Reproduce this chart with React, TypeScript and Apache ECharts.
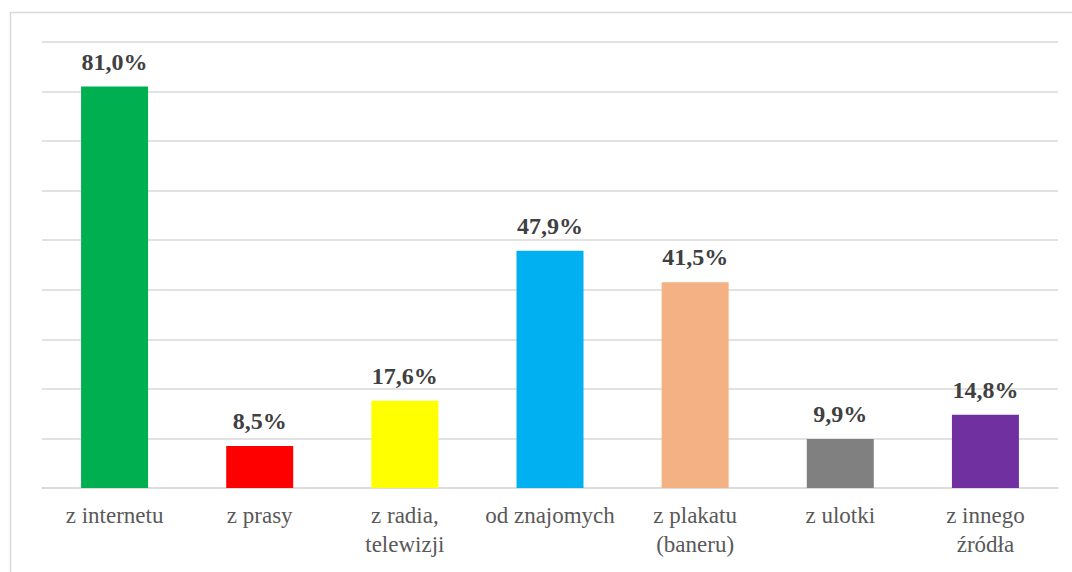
import React, { useEffect, useRef } from "react";
import * as echarts from "echarts";

const categories = [
  "z internetu",
  "z prasy",
  "z radia,\ntelewizji",
  "od znajomych",
  "z plakatu\n(baneru)",
  "z ulotki",
  "z innego\nźródła",
];
const values = [81.0, 8.5, 17.6, 47.9, 41.5, 9.9, 14.8];
const colors = ["#00b050", "#ff0000", "#ffff00", "#00b0f0", "#f4b183", "#808080", "#7030a0"];

const SERIF = "'Liberation Serif', 'Times New Roman', serif";

export default function App() {
  const ref = useRef<HTMLDivElement>(null);
  useEffect(() => {
    if (!ref.current) return;
    const chart = echarts.init(ref.current, undefined, { renderer: "svg" });
    chart.setOption({
      animation: false,
      backgroundColor: "#ffffff",
      textStyle: { fontFamily: SERIF },
      graphic: [
        {
          type: "rect",
          shape: { x: 10.5, y: 12.5, width: 1100, height: 620 },
          style: { fill: "none", stroke: "#d9d9d9", lineWidth: 1.5 },
          silent: true,
        },
      ],
      grid: { left: 42, right: 14, top: 42, bottom: 84, containLabel: false },
      xAxis: {
        type: "category",
        data: categories,
        axisLine: { lineStyle: { color: "#d9d9d9", width: 1.5 } },
        axisTick: { show: false },
        axisLabel: {
          interval: 0,
          color: "#595959",
          fontFamily: SERIF,
          fontSize: 23,
          lineHeight: 29,
          margin: 13,
        },
      },
      yAxis: {
        type: "value",
        min: 0,
        max: 90,
        interval: 10,
        axisLabel: { show: false },
        axisLine: { show: false },
        axisTick: { show: false },
        splitLine: { lineStyle: { color: "#d9d9d9", width: 1.5 } },
      },
      series: [
        {
          type: "bar",
          barWidth: 67,
          data: values.map((v, i) => ({ value: v, itemStyle: { color: colors[i] } })),
          label: {
            show: true,
            position: "top",
            distance: 13,
            color: "#404040",
            fontFamily: SERIF,
            fontWeight: "bold",
            fontSize: 24,
            formatter: (p: any) => p.value.toFixed(1).replace(".", ",") + "%",
          },
        },
      ],
    });
    return () => chart.dispose();
  }, []);
  return (
    <div
      ref={ref}
      style={{ position: "fixed", left: 0, top: 0, width: 1072, height: 572 }}
    />
  );
}
